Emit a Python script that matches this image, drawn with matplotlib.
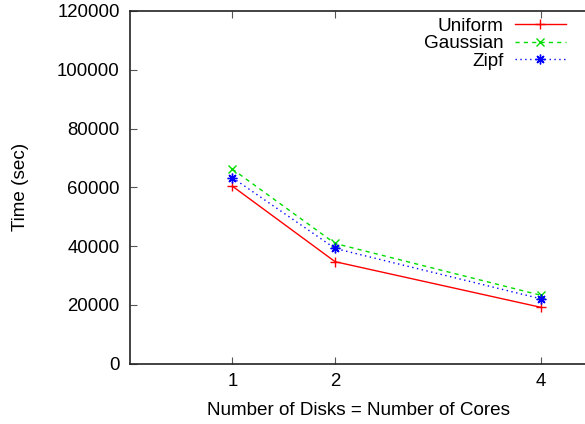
import matplotlib
matplotlib.use("Agg")
import matplotlib.pyplot as plt

plt.rcParams['font.family'] = ['Liberation Sans', 'DejaVu Sans']

disks = [1, 2, 4]
uniform = [60400, 34700, 19200]
gaussian = [66200, 40900, 23300]
zipf = [63300, 39200, 22100]
y_ticks = [0, 20000, 40000, 60000, 80000, 100000, 120000]

fig = plt.figure(figsize=(5.85, 4.24), dpi=100)
ax = fig.add_axes([0.2215, 0.1422, 0.808, 0.832])

asterisk = (8, 2, 0)
ax.plot(disks, uniform, color='#ff0000', lw=1.0, ls='-', marker='+', ms=7, mew=1.0, label='Uniform')
ax.plot(disks, gaussian, color='#00dd00', lw=1.0, ls=(0, (3, 3)), marker='x', ms=6, mew=1.0, label='Gaussian')
ax.plot(disks, zipf, color='#0000ff', lw=1.0, ls=(0, (1, 2.5)), marker=asterisk, ms=7, mew=1.0, label='Zipf')

ax.set_xlim(0, 4.6)
ax.set_ylim(0, 120000)
ax.set_xticks(disks)
ax.set_xticklabels([str(d) for d in disks])
ax.set_yticks(y_ticks)
ax.set_yticklabels([str(v) for v in y_ticks])
ax.tick_params(direction='in', length=5, width=0.8, labelsize=13.4, top=True, right=False, pad=7, color='#555555')
for s in ax.spines.values():
    s.set_linewidth(1.2)
    s.set_color('#222222')
ax.spines['right'].set_visible(False)

ax.set_xlabel('Number of Disks = Number of Cores', fontsize=13.6)
ax.xaxis.set_label_coords(0.485, -0.108)
ax.set_ylabel('Time (sec)', fontsize=13.6, labelpad=20)

fig.legend(loc='upper right', bbox_to_anchor=(0.99, 0.99), frameon=False,
           markerfirst=False, fontsize=13.6, handlelength=2.7, handletextpad=0.6,
           labelspacing=0.02, borderpad=0.2)

fig.savefig('out.png', dpi=100)
